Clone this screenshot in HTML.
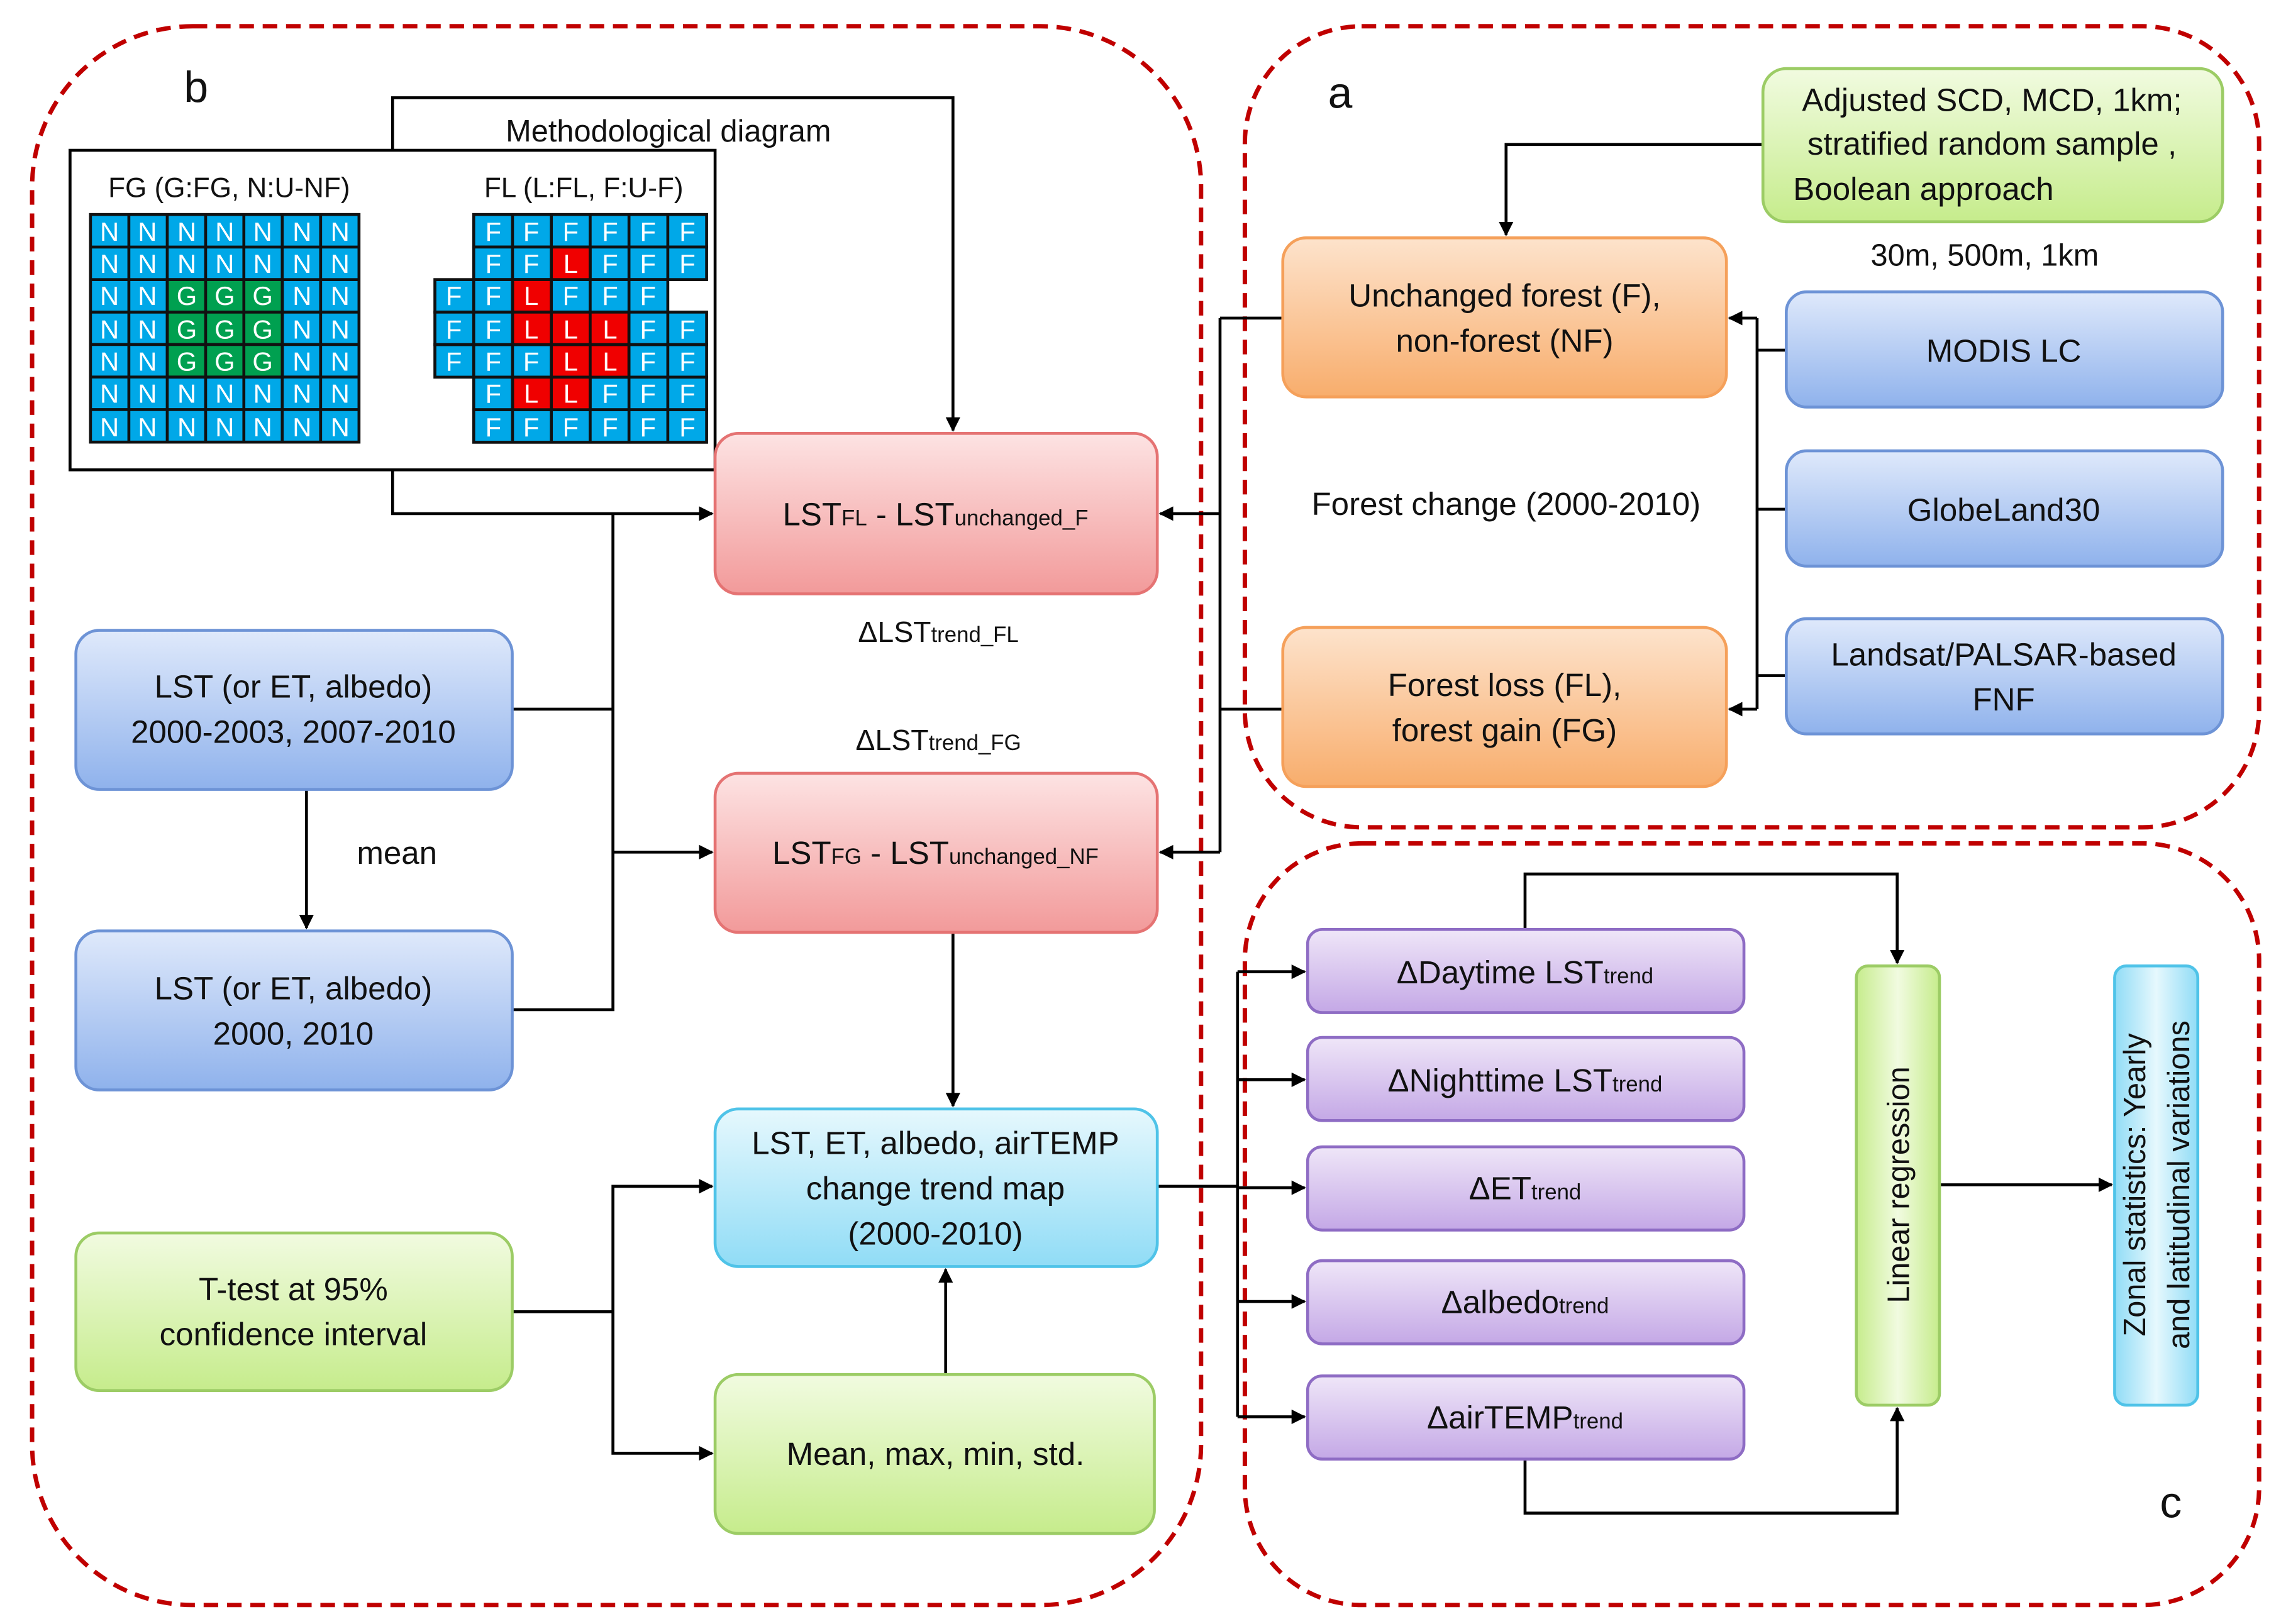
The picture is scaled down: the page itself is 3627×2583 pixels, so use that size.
<!DOCTYPE html>
<html><head><meta charset="utf-8"><style>
html,body{margin:0;padding:0;background:#fff}
svg{display:block}
text{font-family:"Liberation Sans",sans-serif}
</style></head><body>
<svg width="3627" height="2583" viewBox="0 0 1563 1113" preserveAspectRatio="none" xmlns="http://www.w3.org/2000/svg" fill="#111">
<defs>
<linearGradient id="gb" x1="0" y1="0" x2="0" y2="1"><stop offset="0" stop-color="#dfe9fb"/><stop offset="1" stop-color="#8fb2ec"/></linearGradient>
<linearGradient id="go" x1="0" y1="0" x2="0" y2="1"><stop offset="0" stop-color="#fde3cc"/><stop offset="1" stop-color="#f8ad6c"/></linearGradient>
<linearGradient id="gp" x1="0" y1="0" x2="0" y2="1"><stop offset="0" stop-color="#fde3e3"/><stop offset="1" stop-color="#f29a9a"/></linearGradient>
<linearGradient id="gg" x1="0" y1="0" x2="0" y2="1"><stop offset="0" stop-color="#f1fbe0"/><stop offset="1" stop-color="#c6ec8c"/></linearGradient>
<linearGradient id="gc" x1="0" y1="0" x2="0" y2="1"><stop offset="0" stop-color="#e6f8fd"/><stop offset="1" stop-color="#90dcf6"/></linearGradient>
<linearGradient id="gv" x1="0" y1="0" x2="0" y2="1"><stop offset="0" stop-color="#efe6f8"/><stop offset="1" stop-color="#c4a8e6"/></linearGradient>
<linearGradient id="ggh" x1="0" y1="0" x2="1" y2="0"><stop offset="0" stop-color="#c6ec8c"/><stop offset="0.5" stop-color="#f1fbe0"/><stop offset="1" stop-color="#c6ec8c"/></linearGradient>
<linearGradient id="gch" x1="0" y1="0" x2="1" y2="0"><stop offset="0" stop-color="#90dcf6"/><stop offset="0.5" stop-color="#e6f8fd"/><stop offset="1" stop-color="#90dcf6"/></linearGradient>
<marker id="ar" markerWidth="10" markerHeight="10" refX="9" refY="5" orient="auto" markerUnits="userSpaceOnUse"><path d="M0,0 L10,5 L0,10 z" fill="#000"/></marker>
</defs>

<g fill="none" stroke="#c00000" stroke-width="3" stroke-dasharray="10,6">
<rect x="22" y="18" width="801" height="1082" rx="110"/>
<rect x="853" y="18" width="695" height="549" rx="80"/>
<rect x="853" y="578" width="695" height="522" rx="80"/>
</g>
<text x="126" y="70" font-size="30">b</text>
<text x="910" y="74" font-size="30">a</text>
<text x="1480" y="1040" font-size="30">c</text>

<rect x="48" y="103" width="442" height="219" fill="#fff" stroke="#000" stroke-width="2"/>
<text x="458" y="97" font-size="21" text-anchor="middle">Methodological  diagram</text>
<text x="157" y="135" font-size="19" text-anchor="middle">FG (G:FG, N:U-NF)</text>
<text x="400" y="135" font-size="19" text-anchor="middle">FL (L:FL, F:U-F)</text>
<g font-size="18" text-anchor="middle">
<g stroke="#111" stroke-width="2">
<rect x="62" y="147" width="184" height="156" fill="#00a8e8"/>
<rect x="114.6" y="191.6" width="78.9" height="66.9" fill="#00a050"/>
</g>
<g stroke="#111" stroke-width="2">
<line x1="88.3" y1="147" x2="88.3" y2="303"/><line x1="114.6" y1="147" x2="114.6" y2="303"/><line x1="140.9" y1="147" x2="140.9" y2="303"/><line x1="167.1" y1="147" x2="167.1" y2="303"/><line x1="193.4" y1="147" x2="193.4" y2="303"/><line x1="219.7" y1="147" x2="219.7" y2="303"/>
<line x1="62" y1="169.3" x2="246" y2="169.3"/><line x1="62" y1="191.6" x2="246" y2="191.6"/><line x1="62" y1="213.9" x2="246" y2="213.9"/><line x1="62" y1="236.1" x2="246" y2="236.1"/><line x1="62" y1="258.4" x2="246" y2="258.4"/><line x1="62" y1="280.7" x2="246" y2="280.7"/>
</g>
<g fill="#fff">
<text x="75" y="165">N</text><text x="101" y="165">N</text><text x="128" y="165">N</text><text x="154" y="165">N</text><text x="180" y="165">N</text><text x="207" y="165">N</text><text x="233" y="165">N</text>
<text x="75" y="187">N</text><text x="101" y="187">N</text><text x="128" y="187">N</text><text x="154" y="187">N</text><text x="180" y="187">N</text><text x="207" y="187">N</text><text x="233" y="187">N</text>
<text x="75" y="209">N</text><text x="101" y="209">N</text><text x="128" y="209">G</text><text x="154" y="209">G</text><text x="180" y="209">G</text><text x="207" y="209">N</text><text x="233" y="209">N</text>
<text x="75" y="232">N</text><text x="101" y="232">N</text><text x="128" y="232">G</text><text x="154" y="232">G</text><text x="180" y="232">G</text><text x="207" y="232">N</text><text x="233" y="232">N</text>
<text x="75" y="254">N</text><text x="101" y="254">N</text><text x="128" y="254">G</text><text x="154" y="254">G</text><text x="180" y="254">G</text><text x="207" y="254">N</text><text x="233" y="254">N</text>
<text x="75" y="276">N</text><text x="101" y="276">N</text><text x="128" y="276">N</text><text x="154" y="276">N</text><text x="180" y="276">N</text><text x="207" y="276">N</text><text x="233" y="276">N</text>
<text x="75" y="299">N</text><text x="101" y="299">N</text><text x="128" y="299">N</text><text x="154" y="299">N</text><text x="180" y="299">N</text><text x="207" y="299">N</text><text x="233" y="299">N</text>
</g>
<g stroke="#111" stroke-width="2">
<rect x="324.6" y="147" width="159.6" height="22.3" fill="#00a8e8"/>
<rect x="324.6" y="169.3" width="159.6" height="22.3" fill="#00a8e8"/>
<rect x="298" y="191.6" width="159.6" height="22.3" fill="#00a8e8"/>
<rect x="298" y="213.9" width="186.2" height="22.3" fill="#00a8e8"/>
<rect x="298" y="236.2" width="186.2" height="22.3" fill="#00a8e8"/>
<rect x="324.6" y="258.5" width="159.6" height="22.3" fill="#00a8e8"/>
<rect x="324.6" y="280.8" width="159.6" height="22.3" fill="#00a8e8"/>
<rect x="377.8" y="169.3" width="26.6" height="22.3" fill="#f00000"/>
<rect x="351.2" y="191.6" width="26.6" height="22.3" fill="#f00000"/>
<rect x="351.2" y="213.9" width="79.8" height="22.3" fill="#f00000"/>
<rect x="377.8" y="236.2" width="53.2" height="22.3" fill="#f00000"/>
<rect x="351.2" y="258.5" width="53.2" height="22.3" fill="#f00000"/>
<line x1="324.6" y1="191.6" x2="324.6" y2="258.5"/>
<line x1="351.2" y1="147" x2="351.2" y2="303"/><line x1="377.8" y1="147" x2="377.8" y2="303"/><line x1="404.4" y1="147" x2="404.4" y2="303"/><line x1="431" y1="147" x2="431" y2="303"/><line x1="457.6" y1="147" x2="457.6" y2="191.6"/><line x1="457.6" y1="213.9" x2="457.6" y2="303"/>
</g>
<g fill="#fff">
<text x="338" y="165">F</text><text x="364" y="165">F</text><text x="391" y="165">F</text><text x="418" y="165">F</text><text x="444" y="165">F</text><text x="471" y="165">F</text>
<text x="338" y="187">F</text><text x="364" y="187">F</text><text x="391" y="187">L</text><text x="418" y="187">F</text><text x="444" y="187">F</text><text x="471" y="187">F</text>
<text x="311" y="209">F</text><text x="338" y="209">F</text><text x="364" y="209">L</text><text x="391" y="209">F</text><text x="418" y="209">F</text><text x="444" y="209">F</text>
<text x="311" y="232">F</text><text x="338" y="232">F</text><text x="364" y="232">L</text><text x="391" y="232">L</text><text x="418" y="232">L</text><text x="444" y="232">F</text><text x="471" y="232">F</text>
<text x="311" y="254">F</text><text x="338" y="254">F</text><text x="364" y="254">F</text><text x="391" y="254">L</text><text x="418" y="254">L</text><text x="444" y="254">F</text><text x="471" y="254">F</text>
<text x="338" y="276">F</text><text x="364" y="276">L</text><text x="391" y="276">L</text><text x="418" y="276">F</text><text x="444" y="276">F</text><text x="471" y="276">F</text>
<text x="338" y="299">F</text><text x="364" y="299">F</text><text x="391" y="299">F</text><text x="418" y="299">F</text><text x="444" y="299">F</text><text x="471" y="299">F</text>
</g>
</g>

<g fill="none" stroke="#000" stroke-width="2">
<polyline points="269,103 269,67 653,67 653,295" marker-end="url(#ar)"/>
<polyline points="269,322 269,352 488,352" marker-end="url(#ar)"/>
<polyline points="351,486 420,486"/>
<polyline points="351,692 420,692 420,352"/>
<line x1="420" y1="584" x2="488" y2="584" marker-end="url(#ar)"/>
<line x1="210" y1="541" x2="210" y2="636" marker-end="url(#ar)"/>
<line x1="653" y1="639" x2="653" y2="758" marker-end="url(#ar)"/>
<polyline points="351,899 420,899"/>
<polyline points="488,813 420,813 420,996 488,996" marker-end="url(#ar)"/>
<line x1="420" y1="813" x2="488" y2="813" marker-end="url(#ar)"/>
<line x1="648" y1="942" x2="648" y2="870" marker-end="url(#ar)"/>
<polyline points="1208,99 1032,99 1032,161" marker-end="url(#ar)"/>
<line x1="1224" y1="240" x2="1204" y2="240"/>
<line x1="1224" y1="349" x2="1204" y2="349"/>
<line x1="1224" y1="463" x2="1204" y2="463"/>
<line x1="1204" y1="218" x2="1204" y2="486"/>
<line x1="1204" y1="218" x2="1185" y2="218" marker-end="url(#ar)"/>
<line x1="1204" y1="486" x2="1185" y2="486" marker-end="url(#ar)"/>
<line x1="879" y1="218" x2="836" y2="218"/>
<line x1="879" y1="486" x2="836" y2="486"/>
<line x1="836" y1="218" x2="836" y2="584"/>
<line x1="836" y1="352" x2="795" y2="352" marker-end="url(#ar)"/>
<line x1="836" y1="584" x2="795" y2="584" marker-end="url(#ar)"/>
<line x1="793" y1="813" x2="848" y2="813"/>
<line x1="848" y1="666" x2="848" y2="971"/>
<line x1="848" y1="666" x2="894" y2="666" marker-end="url(#ar)"/>
<line x1="848" y1="740" x2="894" y2="740" marker-end="url(#ar)"/>
<line x1="848" y1="814" x2="894" y2="814" marker-end="url(#ar)"/>
<line x1="848" y1="892" x2="894" y2="892" marker-end="url(#ar)"/>
<line x1="848" y1="971" x2="894" y2="971" marker-end="url(#ar)"/>
<polyline points="1045,637 1045,599 1300,599 1300,660" marker-end="url(#ar)"/>
<polyline points="1045,1000 1045,1037 1300,1037 1300,965" marker-end="url(#ar)"/>
<line x1="1329" y1="812" x2="1447" y2="812" marker-end="url(#ar)"/>
</g>

<g stroke-width="2">
<rect x="490" y="297" width="303" height="110" rx="16" fill="url(#gp)" stroke="#e57373"/>
<rect x="490" y="530" width="303" height="109" rx="16" fill="url(#gp)" stroke="#e57373"/>
<rect x="52" y="432" width="299" height="109" rx="16" fill="url(#gb)" stroke="#6d93d6"/>
<rect x="52" y="638" width="299" height="109" rx="16" fill="url(#gb)" stroke="#6d93d6"/>
<rect x="490" y="760" width="303" height="108" rx="16" fill="url(#gc)" stroke="#4fc3e8"/>
<rect x="52" y="845" width="299" height="108" rx="16" fill="url(#gg)" stroke="#9ccc65"/>
<rect x="490" y="942" width="301" height="109" rx="16" fill="url(#gg)" stroke="#9ccc65"/>
<rect x="1208" y="47" width="315" height="105" rx="16" fill="url(#gg)" stroke="#9ccc65"/>
<rect x="879" y="163" width="304" height="109" rx="16" fill="url(#go)" stroke="#f5a05a"/>
<rect x="879" y="430" width="304" height="109" rx="16" fill="url(#go)" stroke="#f5a05a"/>
<rect x="1224" y="200" width="299" height="79" rx="14" fill="url(#gb)" stroke="#6d93d6"/>
<rect x="1224" y="309" width="299" height="79" rx="14" fill="url(#gb)" stroke="#6d93d6"/>
<rect x="1224" y="424" width="299" height="79" rx="14" fill="url(#gb)" stroke="#6d93d6"/>
<rect x="896" y="637" width="299" height="57" rx="10" fill="url(#gv)" stroke="#8e6cc4"/>
<rect x="896" y="711" width="299" height="57" rx="10" fill="url(#gv)" stroke="#8e6cc4"/>
<rect x="896" y="786" width="299" height="57" rx="10" fill="url(#gv)" stroke="#8e6cc4"/>
<rect x="896" y="864" width="299" height="57" rx="10" fill="url(#gv)" stroke="#8e6cc4"/>
<rect x="896" y="943" width="299" height="57" rx="10" fill="url(#gv)" stroke="#8e6cc4"/>
<rect x="1272" y="662" width="57" height="301" rx="8" fill="url(#ggh)" stroke="#9ccc65"/>
<rect x="1449" y="662" width="57" height="301" rx="8" fill="url(#gch)" stroke="#4fc3e8"/>
</g>

<g font-size="22" text-anchor="middle">
<text x="641" y="360">LST<tspan font-size="15">FL</tspan> - LST<tspan font-size="15">unchanged_F</tspan></text>
<text x="641" y="592">LST<tspan font-size="15">FG</tspan> - LST<tspan font-size="15">unchanged_NF</tspan></text>
<text x="643" y="440" font-size="20">ΔLST<tspan font-size="15">trend_FL</tspan></text>
<text x="643" y="514" font-size="20">ΔLST<tspan font-size="15">trend_FG</tspan></text>
<text x="201" y="478">LST (or ET, albedo)</text>
<text x="201" y="509">2000-2003, 2007-2010</text>
<text x="272" y="592">mean</text>
<text x="201" y="685">LST (or ET, albedo)</text>
<text x="201" y="716">2000, 2010</text>
<text x="641" y="791">LST, ET, albedo, airTEMP</text>
<text x="641" y="822">change trend map</text>
<text x="641" y="853">(2000-2010)</text>
<text x="201" y="891">T-test at 95%</text>
<text x="201" y="922">confidence interval</text>
<text x="641" y="1004">Mean, max, min, std.</text>
<text x="1365" y="76">Adjusted SCD, MCD, 1km;</text>
<text x="1365" y="106">stratified random sample ,</text>
<text x="1318" y="137">Boolean approach</text>
<text x="1360" y="182" font-size="21">30m, 500m, 1km</text>
<text x="1031" y="210">Unchanged forest (F),</text>
<text x="1031" y="241">non-forest (NF)</text>
<text x="1031" y="477">Forest loss (FL),</text>
<text x="1031" y="508">forest gain (FG)</text>
<text x="1032" y="353">Forest change (2000-2010)</text>
<text x="1373" y="248">MODIS LC</text>
<text x="1373" y="357">GlobeLand30</text>
<text x="1373" y="456">Landsat/PALSAR-based</text>
<text x="1373" y="487">FNF</text>
<text x="1045" y="674">ΔDaytime LST<tspan font-size="15">trend</tspan></text>
<text x="1045" y="748">ΔNighttime LST<tspan font-size="15">trend</tspan></text>
<text x="1045" y="822">ΔET<tspan font-size="15">trend</tspan></text>
<text x="1045" y="900">Δalbedo<tspan font-size="15">trend</tspan></text>
<text x="1045" y="979">ΔairTEMP<tspan font-size="15">trend</tspan></text>
<text transform="translate(1308,812) rotate(-90)" font-size="21">Linear regression</text>
<text transform="translate(1470,812) rotate(-90)" font-size="21">Zonal statistics: Yearly</text>
<text transform="translate(1500,812) rotate(-90)" font-size="21">and latitudinal variations</text>
</g>
</svg>
</body></html>
